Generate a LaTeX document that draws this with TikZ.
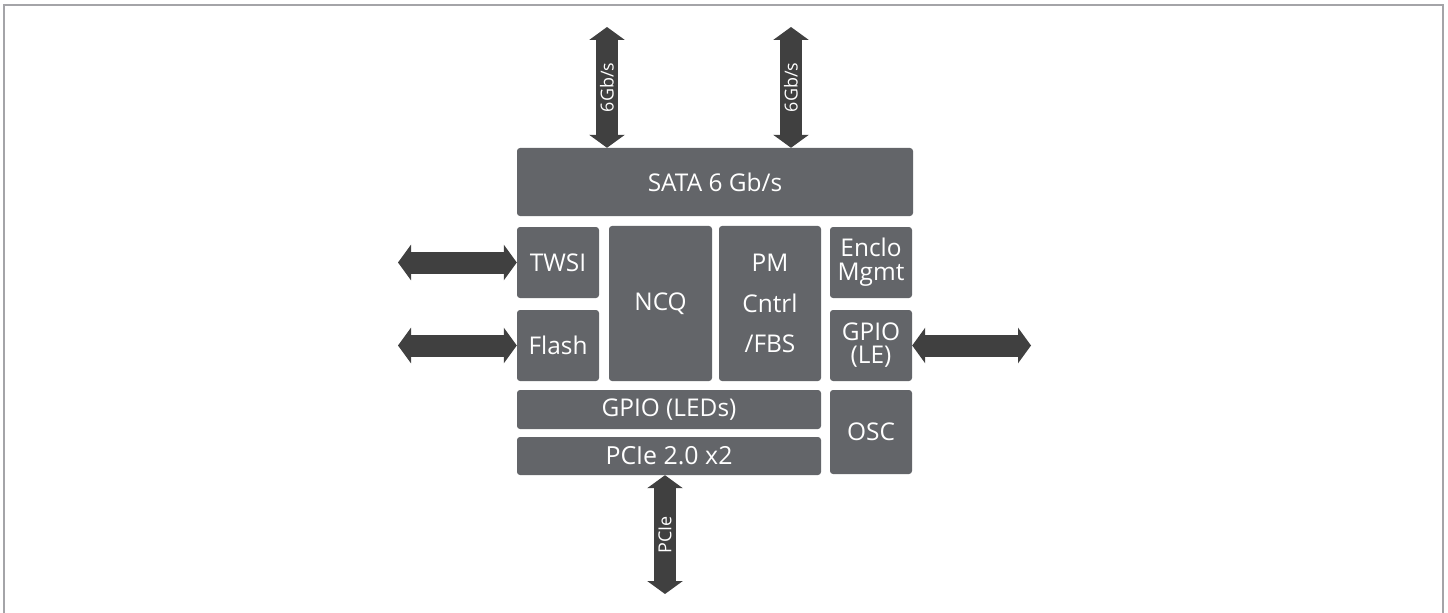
\documentclass[tikz,border=0pt]{standalone}
\usepackage{fontspec}
\setmainfont{Open Sans}
\usetikzlibrary{arrows.meta}
\definecolor{boxgray}{HTML}{636569}
\definecolor{arrowgray}{HTML}{404040}
\definecolor{framegray}{HTML}{A4A4A8}
\tikzset{
  blk/.style={draw=none, fill=boxgray, rounded corners=3bp, text=white, inner sep=0pt,
    font=\fontsize{24.5}{26}\selectfont, align=center},
  bus/.style={line width=22bp, draw=arrowgray,
    {Triangle[width=35bp,length=13bp]}-{Triangle[width=35bp,length=13bp]}},
  buslabel/.style={text=white, font=\fontsize{18}{20}\selectfont, inner sep=0pt}
}
\begin{document}
\begin{tikzpicture}[x=1bp,y=-1bp]
\useasboundingbox (0,0) rectangle (1448,613);
\draw[framegray, line width=1.6bp] (3.7,613) -- (3.7,5) -- (1442.7,5) -- (1442.7,613);

\node[blk, minimum width=396bp, minimum height=68bp] (sata) at (715,182) {SATA 6 Gb/s};
\node[blk, minimum width=82bp, minimum height=71bp] (twsi) at (558,262.5) {TWSI};
\node[blk, minimum width=82bp, minimum height=71bp] (flash) at (558,345.5) {Flash};
\node[blk, minimum width=103bp, minimum height=155bp] (ncq) at (660.5,303.5) {NCQ};
\node[blk, minimum width=102bp, minimum height=155bp, font=\fontsize{24.5}{41}\selectfont] (pm) at (770,303.5) {PM\\Cntrl\\/FBS};
\node[blk, minimum width=82bp, minimum height=71bp, font=\fontsize{24.5}{24}\selectfont] (enclo) at (871,262.5) {Enclo\\Mgmt};
\node[blk, minimum width=82bp, minimum height=71bp, font=\fontsize{24.5}{23}\selectfont] (gpiole) at (871,345.5) {GPIO\\(LE)};
\node[blk, minimum width=304bp, minimum height=39bp] (gpioleds) at (669,409.5) {GPIO (LEDs)};
\node[blk, minimum width=304bp, minimum height=38bp, font=\fontsize{25}{26}\selectfont] (pcie) at (669,456) {PCIe 2.0 x2};
\node[blk, minimum width=82bp, minimum height=84bp] (osc) at (871,432) {OSC};

\coordinate (t1) at (607,27);
\coordinate (t2) at (791,27);
\coordinate (l1) at (398,262.5);
\coordinate (l2) at (398,345.5);
\coordinate (r1) at (1031,345.5);
\coordinate (b1) at (665,594);

\draw[bus] (sata.north -| t1) -- node[buslabel, sloped] {6Gb/s} (t1);
\draw[bus] (sata.north -| t2) -- node[buslabel, sloped] {6Gb/s} (t2);
\draw[bus] (twsi.west) -- (l1);
\draw[bus] (flash.west) -- (l2);
\draw[bus] (gpiole.east) -- (r1);
\draw[bus] (b1) -- node[buslabel, sloped] {PCIe} (pcie.south -| b1);
\end{tikzpicture}
\end{document}
